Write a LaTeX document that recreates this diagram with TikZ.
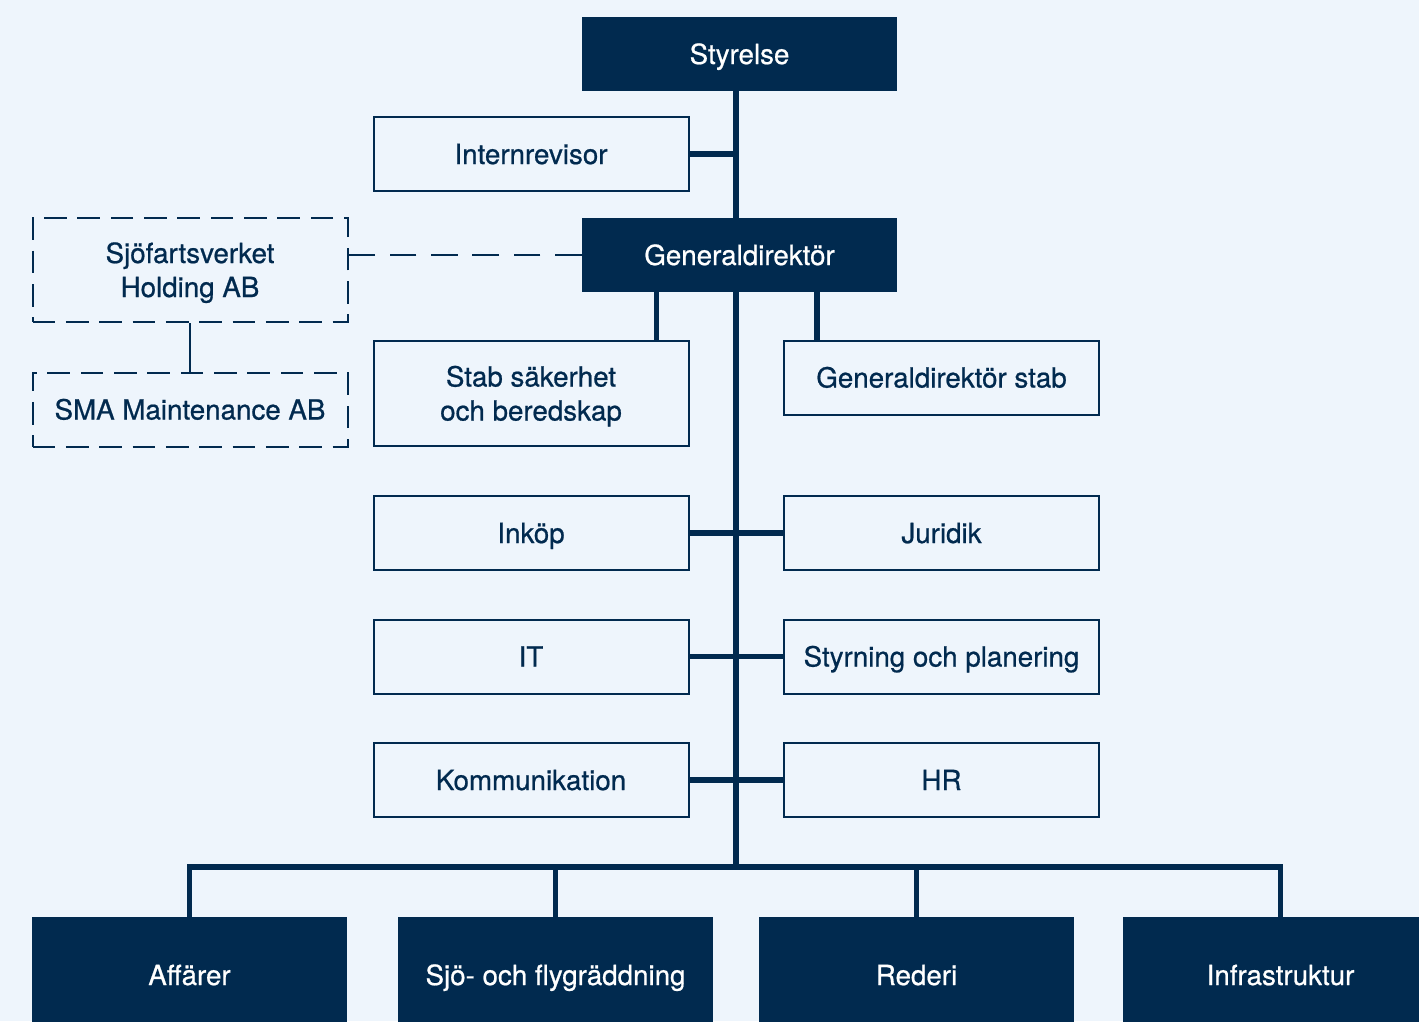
\documentclass[tikz,border=0pt]{standalone}
\usepackage{fontspec}
\setmainfont{TeX Gyre Heros}[FakeBold=0.7]
\usetikzlibrary{backgrounds}
\definecolor{bg}{HTML}{EEF5FC}
\definecolor{navy}{HTML}{012A4F}
\begin{document}
\begin{tikzpicture}[x=0.75pt,y=-0.75pt,
  base/.style={inner sep=0pt, align=center, font=\fontsize{20.8}{25.5}\selectfont, minimum width=236.25pt, text height=15pt, text depth=0pt},
  twolines/.style={text height=40.5pt, text depth=0pt},
  darkbox/.style={base, fill=navy, text=white, minimum height=55.5pt},
  lightbox/.style={base, draw=navy, line width=1.5pt, fill=bg, text=navy, minimum height=55.5pt},
  dashbox/.style={base, draw=navy, line width=1.5pt, dash pattern=on 17pt off 8pt, fill=bg, text=navy, minimum height=55.5pt},
  thickline/.style={draw=navy, line width=4.3pt},
  thinline/.style={draw=navy, line width=1.5pt},
  dashline/.style={draw=navy, line width=1.5pt, dash pattern=on 20pt off 11pt}]
\useasboundingbox (0,0) rectangle (1419,1021);
\clip (0,0) rectangle (1419,1021);
\coordinate (spine) at (736,0);
\coordinate (d1) at (656.5,0);
\coordinate (d2) at (817,0);
\coordinate (bus) at (736,867);
% nodes
\node[darkbox] (sty) at (739.5,54) {Styrelse};
\node[lightbox] (int) at (531,154) {Internrevisor};
\node[darkbox] (gd) at (739.5,255) {Generaldirektör};
\node[dashbox, twolines, minimum height=78pt] (sjo) at (190,270) {Sjöfartsverket\\Holding AB};
\node[dashbox] (sma) at (190,409.5) {SMA Maintenance AB};
\node[lightbox, twolines, minimum height=78.75pt] (stab) at (531,393.5) {Stab säkerhet\\och beredskap};
\node[lightbox] (gds) at (941.5,377.5) {Generaldirektör stab};
\node[lightbox] (ink) at (531,533) {Inköp};
\node[lightbox] (jur) at (941.5,533) {Juridik};
\node[lightbox] (it) at (531,656.5) {IT};
\node[lightbox] (stp) at (941.5,656.5) {Styrning och planering};
\node[lightbox] (kom) at (531,780) {Kommunikation};
\node[lightbox] (hr) at (941.5,780) {HR};
\node[darkbox, minimum height=87pt] (aff) at (189.5,975) {Affärer};
\node[darkbox, minimum height=87pt] (sjor) at (555.5,975) {Sjö- och flygräddning};
\node[darkbox, minimum height=87pt] (red) at (916.5,975) {Rederi};
\node[darkbox, minimum height=87pt] (inf) at (1280.5,975) {Infrastruktur};
% connectors
\begin{scope}[on background layer]
\fill[bg] (0,0) rectangle (1419,1021);
\draw[thickline] (sty.south -| spine) -- (bus);
\draw[thickline] (int.east) -- (int.east -| spine);
\draw[thickline] (gd.south -| d1) -- (stab.north -| d1);
\draw[thickline] (gd.south -| d2) -- (gds.north -| d2);
\draw[thickline] (ink.east) -- (jur.west);
\draw[thickline] (it.east) -- (stp.west);
\draw[thickline] (kom.east) -- (hr.west);
\draw[thickline, line cap=rect] (aff.north) -- (aff.north |- bus) -- (inf.north |- bus) -- (inf.north);
\draw[thickline] (sjor.north |- bus) -- (sjor.north);
\draw[thickline] (red.north |- bus) -- (red.north);
\draw[thinline] (sjo.south) -- (sma.north);
\draw[dashline] (gd.west) -- (gd.west -| sjo.east);
\end{scope}
\end{tikzpicture}
\end{document}
